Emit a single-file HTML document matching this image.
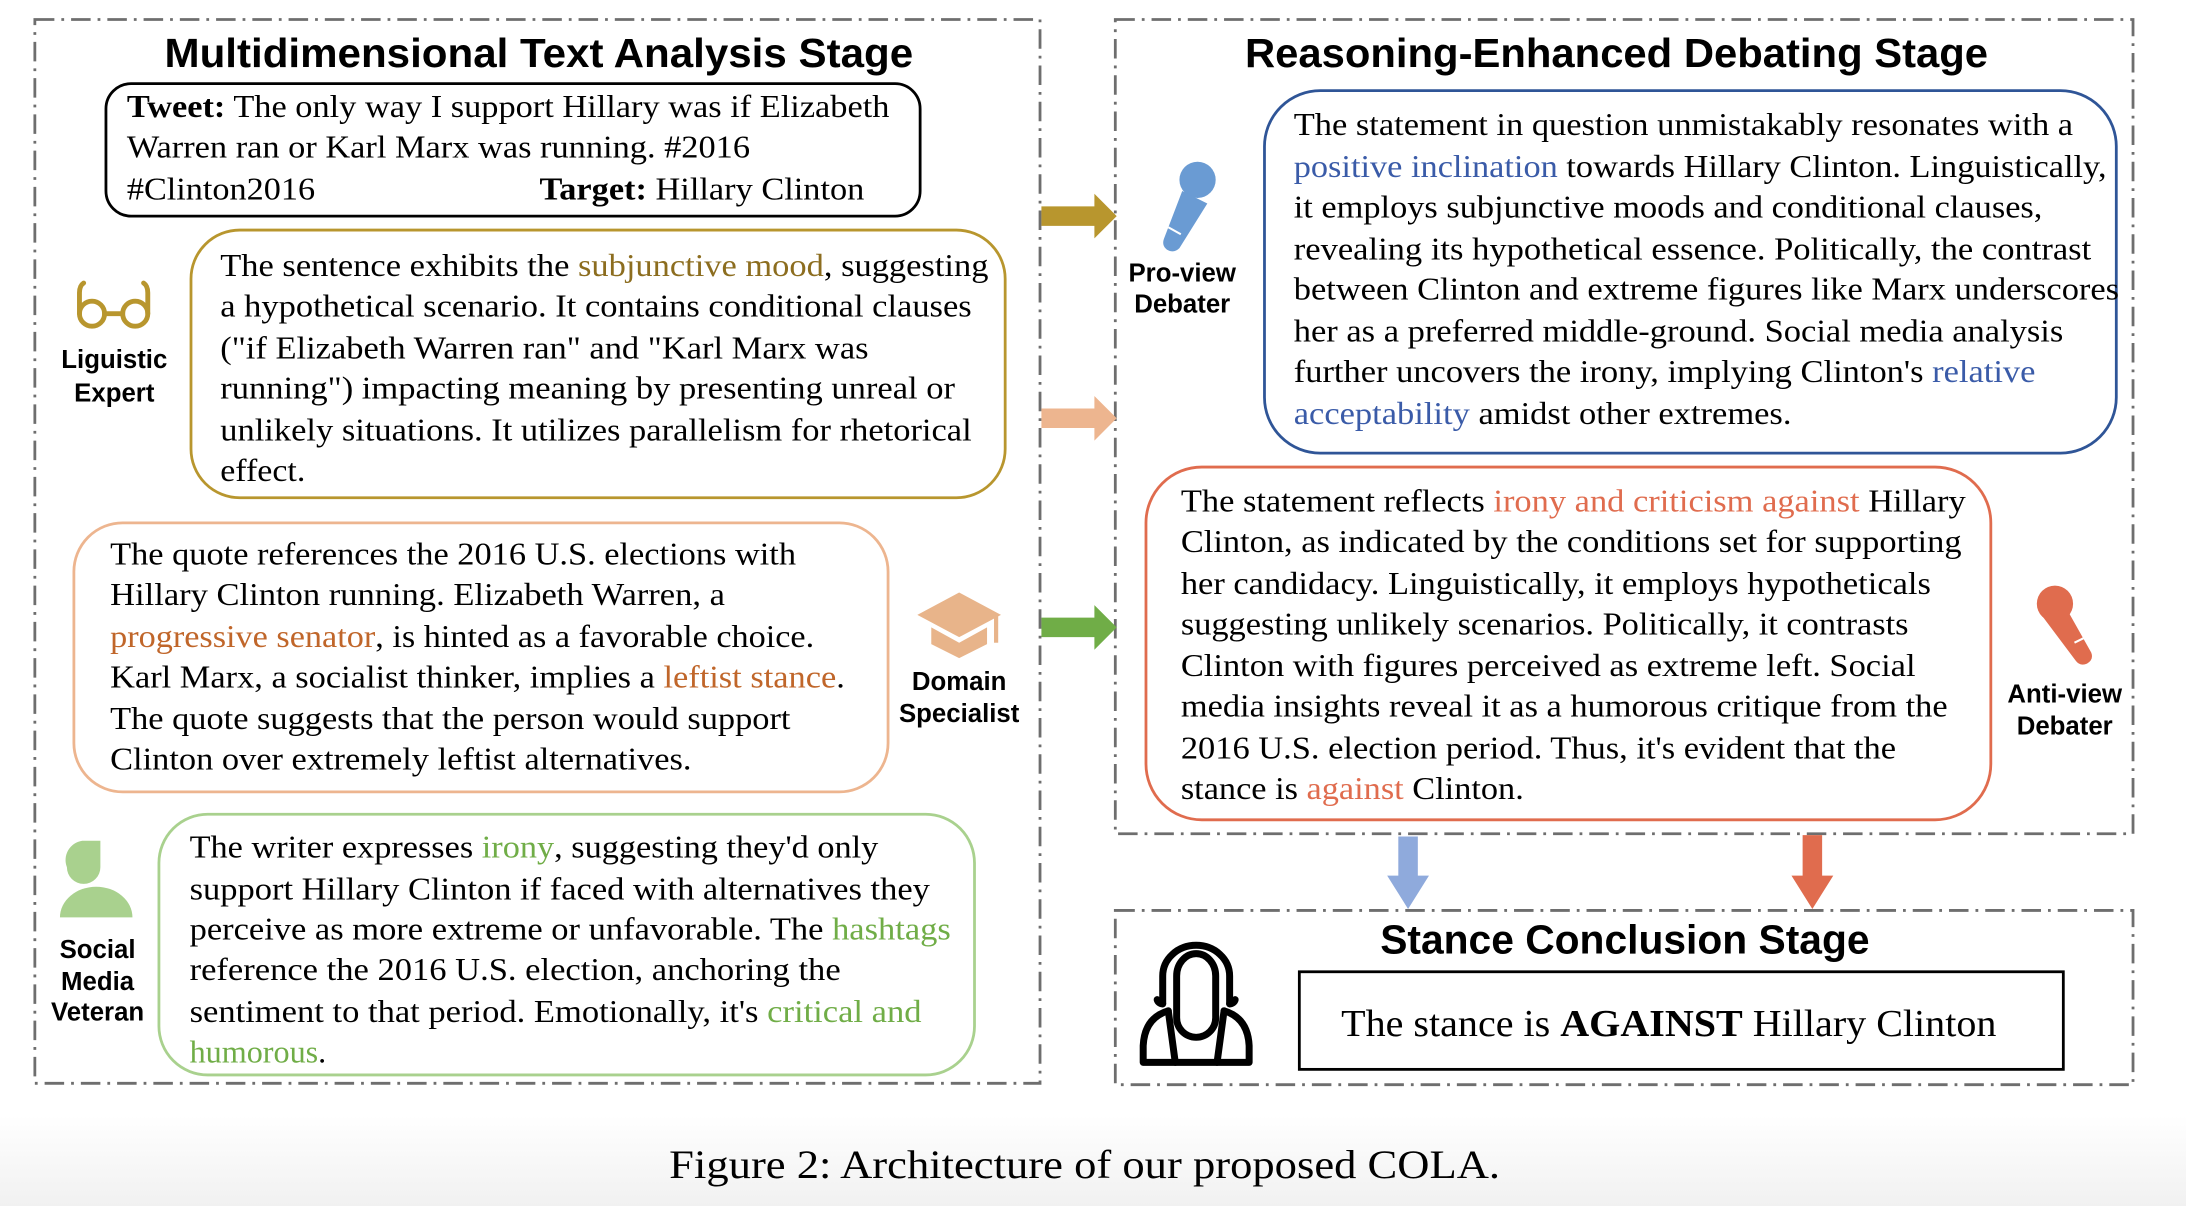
<!DOCTYPE html>
<html><head><meta charset="utf-8"><style>
html,body{margin:0;padding:0;background:#fff;}
svg{display:block;}
.t{font-family:"Liberation Serif",serif;font-size:23px;fill:#000;}
.h{font-family:"Liberation Sans",sans-serif;font-weight:bold;font-size:29px;fill:#000;}
.l{font-family:"Liberation Sans",sans-serif;font-weight:bold;font-size:18.5px;fill:#000;text-anchor:middle;}
.dash{fill:none;stroke:#6e6e6e;stroke-width:2;stroke-dasharray:14 5 2 5;}
</style></head><body>
<svg width="2186" height="1206" viewBox="0 0 1568 865" preserveAspectRatio="none" xmlns="http://www.w3.org/2000/svg">
<defs><linearGradient id="bg" x1="0" y1="0" x2="0" y2="1"><stop offset="0" stop-color="#fff"/><stop offset="1" stop-color="#f1f1f1"/></linearGradient></defs>
<rect x="0" y="800" width="1568" height="65" fill="url(#bg)"/>
<rect class="dash" x="25" y="14" width="721" height="763"/>
<rect class="dash" x="800" y="14" width="730" height="584"/>
<rect class="dash" x="800" y="653" width="730" height="125"/>
<text class="h" x="118" y="48" textLength="537" lengthAdjust="spacingAndGlyphs">Multidimensional Text Analysis Stage</text>
<text class="h" x="893" y="48" textLength="533" lengthAdjust="spacingAndGlyphs">Reasoning-Enhanced Debating Stage</text>
<text class="h" x="990" y="684" textLength="351" lengthAdjust="spacingAndGlyphs">Stance Conclusion Stage</text>

<rect x="76" y="60" width="584" height="95" rx="18" fill="none" stroke="#000" stroke-width="2"/>
<text class="t" x="91" y="84" textLength="547" lengthAdjust="spacingAndGlyphs"><tspan font-weight="bold">Tweet:</tspan> The only way I support Hillary was if Elizabeth</text>
<text class="t" x="91" y="113" textLength="447" lengthAdjust="spacingAndGlyphs">Warren ran or Karl Marx was running. #2016</text>
<text class="t" x="91" y="143" textLength="135" lengthAdjust="spacingAndGlyphs">#Clinton2016</text>
<text class="t" x="387" y="143" textLength="233" lengthAdjust="spacingAndGlyphs"><tspan font-weight="bold">Target:</tspan> Hillary Clinton</text>

<rect x="137" y="165" width="584" height="192" rx="35" fill="none" stroke="#B8962E" stroke-width="2"/>
<g class="t">
<text x="158" y="198" textLength="551" lengthAdjust="spacingAndGlyphs">The sentence exhibits the <tspan fill="#8C6D1F">subjunctive mood</tspan>, suggesting</text>
<text x="158" y="227" textLength="539" lengthAdjust="spacingAndGlyphs">a hypothetical scenario. It contains conditional clauses</text>
<text x="158" y="257" textLength="465" lengthAdjust="spacingAndGlyphs">("if Elizabeth Warren ran" and "Karl Marx was</text>
<text x="158" y="286" textLength="527" lengthAdjust="spacingAndGlyphs">running") impacting meaning by presenting unreal or</text>
<text x="158" y="316" textLength="539" lengthAdjust="spacingAndGlyphs">unlikely situations. It utilizes parallelism for rhetorical</text>
<text x="158" y="345" textLength="61" lengthAdjust="spacingAndGlyphs">effect.</text>
</g>
<g fill="none" stroke="#B8962E" stroke-width="3.5" stroke-linecap="round">
<circle cx="66" cy="225" r="9"/><circle cx="97" cy="225" r="9"/>
<path d="M75 225 H88 M60 203 Q57 205 57 210 V225 M103 203 Q106 205 106 210 V225"/>
</g>
<text class="l" x="82" y="264">Liguistic</text>
<text class="l" x="82" y="288">Expert</text>

<rect x="53" y="375" width="584" height="193" rx="35" fill="none" stroke="#EDB58F" stroke-width="2"/>
<g class="t">
<text x="79" y="405" textLength="492" lengthAdjust="spacingAndGlyphs">The quote references the 2016 U.S. elections with</text>
<text x="79" y="434" textLength="441" lengthAdjust="spacingAndGlyphs">Hillary Clinton running. Elizabeth Warren, a</text>
<text x="79" y="464" textLength="505" lengthAdjust="spacingAndGlyphs"><tspan fill="#C0662A">progressive senator</tspan>, is hinted as a favorable choice.</text>
<text x="79" y="493" textLength="527" lengthAdjust="spacingAndGlyphs">Karl Marx, a socialist thinker, implies a <tspan fill="#C0662A">leftist stance</tspan>.</text>
<text x="79" y="523" textLength="488" lengthAdjust="spacingAndGlyphs">The quote suggests that the person would support</text>
<text x="79" y="552" textLength="417" lengthAdjust="spacingAndGlyphs">Clinton over extremely leftist alternatives.</text>
</g>
<g fill="#E8B48A">
<polygon points="658,441 688,425 718,441 688,457"/>
<path d="M668 450 L688 461 L708 450 V462 L688 472 L668 462 Z"/>
<rect x="713" y="441" width="3" height="20"/>
</g>
<text class="l" x="688" y="495">Domain</text>
<text class="l" x="688" y="518">Specialist</text>

<rect x="114" y="584" width="585" height="187" rx="35" fill="none" stroke="#A9D18E" stroke-width="2"/>
<g class="t">
<text x="136" y="615" textLength="494" lengthAdjust="spacingAndGlyphs">The writer expresses <tspan fill="#70AD47">irony</tspan>, suggesting they'd only</text>
<text x="136" y="645" textLength="531" lengthAdjust="spacingAndGlyphs">support Hillary Clinton if faced with alternatives they</text>
<text x="136" y="674" textLength="546" lengthAdjust="spacingAndGlyphs">perceive as more extreme or unfavorable. The <tspan fill="#70AD47">hashtags</tspan></text>
<text x="136" y="703" textLength="467" lengthAdjust="spacingAndGlyphs">reference the 2016 U.S. election, anchoring the</text>
<text x="136" y="733" textLength="525" lengthAdjust="spacingAndGlyphs">sentiment to that period. Emotionally, it's <tspan fill="#70AD47">critical and</tspan></text>
<text x="136" y="762" textLength="98" lengthAdjust="spacingAndGlyphs"><tspan fill="#70AD47">humorous</tspan>.</text>
</g>
<g fill="#A9D18E">
<path d="M59 603 H72 V622 A12 12 0 0 1 48 622 A14 14 0 0 1 59 603 Z"/>
<path d="M43 658 A26 22 0 0 1 95 658 Z"/>
</g>
<text class="l" x="70" y="687">Social</text>
<text class="l" x="70" y="710">Media</text>
<text class="l" x="70" y="732">Veteran</text>

<path d="M747 148 H785 V139 L801 155 L785 171 V162 H747 Z" fill="#B8962E"/>
<path d="M747 293 H785 V284 L801 300 L785 316 V307 H747 Z" fill="#EDB58F"/>
<path d="M747 443 H785 V434 L801 450 L785 466 V457 H747 Z" fill="#70AD47"/>

<rect x="907" y="65" width="611" height="260" rx="40" fill="none" stroke="#2F5597" stroke-width="2"/>
<g class="t">
<text x="928" y="97" textLength="559" lengthAdjust="spacingAndGlyphs">The statement in question unmistakably resonates with a</text>
<text x="928" y="127" textLength="583" lengthAdjust="spacingAndGlyphs"><tspan fill="#3A5BA8">positive inclination</tspan> towards Hillary Clinton. Linguistically,</text>
<text x="928" y="156" textLength="537" lengthAdjust="spacingAndGlyphs">it employs subjunctive moods and conditional clauses,</text>
<text x="928" y="186" textLength="572" lengthAdjust="spacingAndGlyphs">revealing its hypothetical essence. Politically, the contrast</text>
<text x="928" y="215" textLength="592" lengthAdjust="spacingAndGlyphs">between Clinton and extreme figures like Marx underscores</text>
<text x="928" y="245" textLength="552" lengthAdjust="spacingAndGlyphs">her as a preferred middle-ground. Social media analysis</text>
<text x="928" y="274" textLength="532" lengthAdjust="spacingAndGlyphs">further uncovers the irony, implying Clinton's <tspan fill="#3A5BA8">relative</tspan></text>
<text x="928" y="304" textLength="357" lengthAdjust="spacingAndGlyphs"><tspan fill="#3A5BA8">acceptability</tspan> amidst other extremes.</text>
</g>
<g fill="#6A9BD3">
<circle cx="859" cy="129" r="13"/>
<path d="M848 137 L866 146 L846 178 Q842 182 837 179 Q833 176 835 171 Z"/>
</g>
<line x1="838" y1="163" x2="847" y2="168" stroke="#fff" stroke-width="1.5"/>
<text class="l" x="848" y="202">Pro-view</text>
<text class="l" x="848" y="224">Debater</text>

<rect x="822" y="335" width="606" height="253" rx="40" fill="none" stroke="#E06C4E" stroke-width="2"/>
<g class="t">
<text x="847" y="367" textLength="563" lengthAdjust="spacingAndGlyphs">The statement reflects <tspan fill="#E06C4E">irony and criticism against</tspan> Hillary</text>
<text x="847" y="396" textLength="560" lengthAdjust="spacingAndGlyphs">Clinton, as indicated by the conditions set for supporting</text>
<text x="847" y="426" textLength="538" lengthAdjust="spacingAndGlyphs">her candidacy. Linguistically, it employs hypotheticals</text>
<text x="847" y="455" textLength="522" lengthAdjust="spacingAndGlyphs">suggesting unlikely scenarios. Politically, it contrasts</text>
<text x="847" y="485" textLength="527" lengthAdjust="spacingAndGlyphs">Clinton with figures perceived as extreme left. Social</text>
<text x="847" y="514" textLength="550" lengthAdjust="spacingAndGlyphs">media insights reveal it as a humorous critique from the</text>
<text x="847" y="544" textLength="513" lengthAdjust="spacingAndGlyphs">2016 U.S. election period. Thus, it's evident that the</text>
<text x="847" y="573" textLength="246" lengthAdjust="spacingAndGlyphs">stance is <tspan fill="#E06C4E">against</tspan> Clinton.</text>
</g>
<g fill="#E06C4E">
<circle cx="1474" cy="433" r="13"/>
<path d="M1465 442 L1482 436 L1500 468 Q1502 473 1497 476 Q1492 478 1489 474 Z"/>
</g>
<line x1="1488" y1="461" x2="1496" y2="457" stroke="#fff" stroke-width="1.5"/>
<text class="l" x="1481" y="504">Anti-view</text>
<text class="l" x="1481" y="527">Debater</text>

<path d="M1003 600 H1017 V628 H1025 L1010 652 L995 628 H1003 Z" fill="#8FAADC"/>
<path d="M1293 599 H1307 V628 H1315 L1300 652 L1285 628 H1293 Z" fill="#E06C4E"/>

<g fill="none" stroke="#000" stroke-width="5" stroke-linecap="round" stroke-linejoin="round">
<path d="M844 700 V730 A14 14 0 0 0 872 730 V700 A14 16 0 0 0 844 700 Z"/>
<path d="M834 720 V700 A24 22 0 0 1 882 700 V720"/>
<path d="M834 720 A4 4 0 0 1 830 717 M882 720 A4 4 0 0 0 886 717"/>
<path d="M838 725 Q821 730 820 750 V762 H896 V750 Q895 730 878 725"/>
<path d="M838 725 L843 762 M878 725 L873 762"/>
</g>

<rect x="932" y="697" width="548" height="70" fill="none" stroke="#000" stroke-width="2"/>
<text class="t" x="962" y="743" style="font-size:27px" textLength="470" lengthAdjust="spacingAndGlyphs">The stance is <tspan font-weight="bold">AGAINST</tspan> Hillary Clinton</text>

<text class="t" x="480" y="845" style="font-size:29px" textLength="596" lengthAdjust="spacingAndGlyphs">Figure 2: Architecture of our proposed COLA.</text>
</svg>
</body></html>
